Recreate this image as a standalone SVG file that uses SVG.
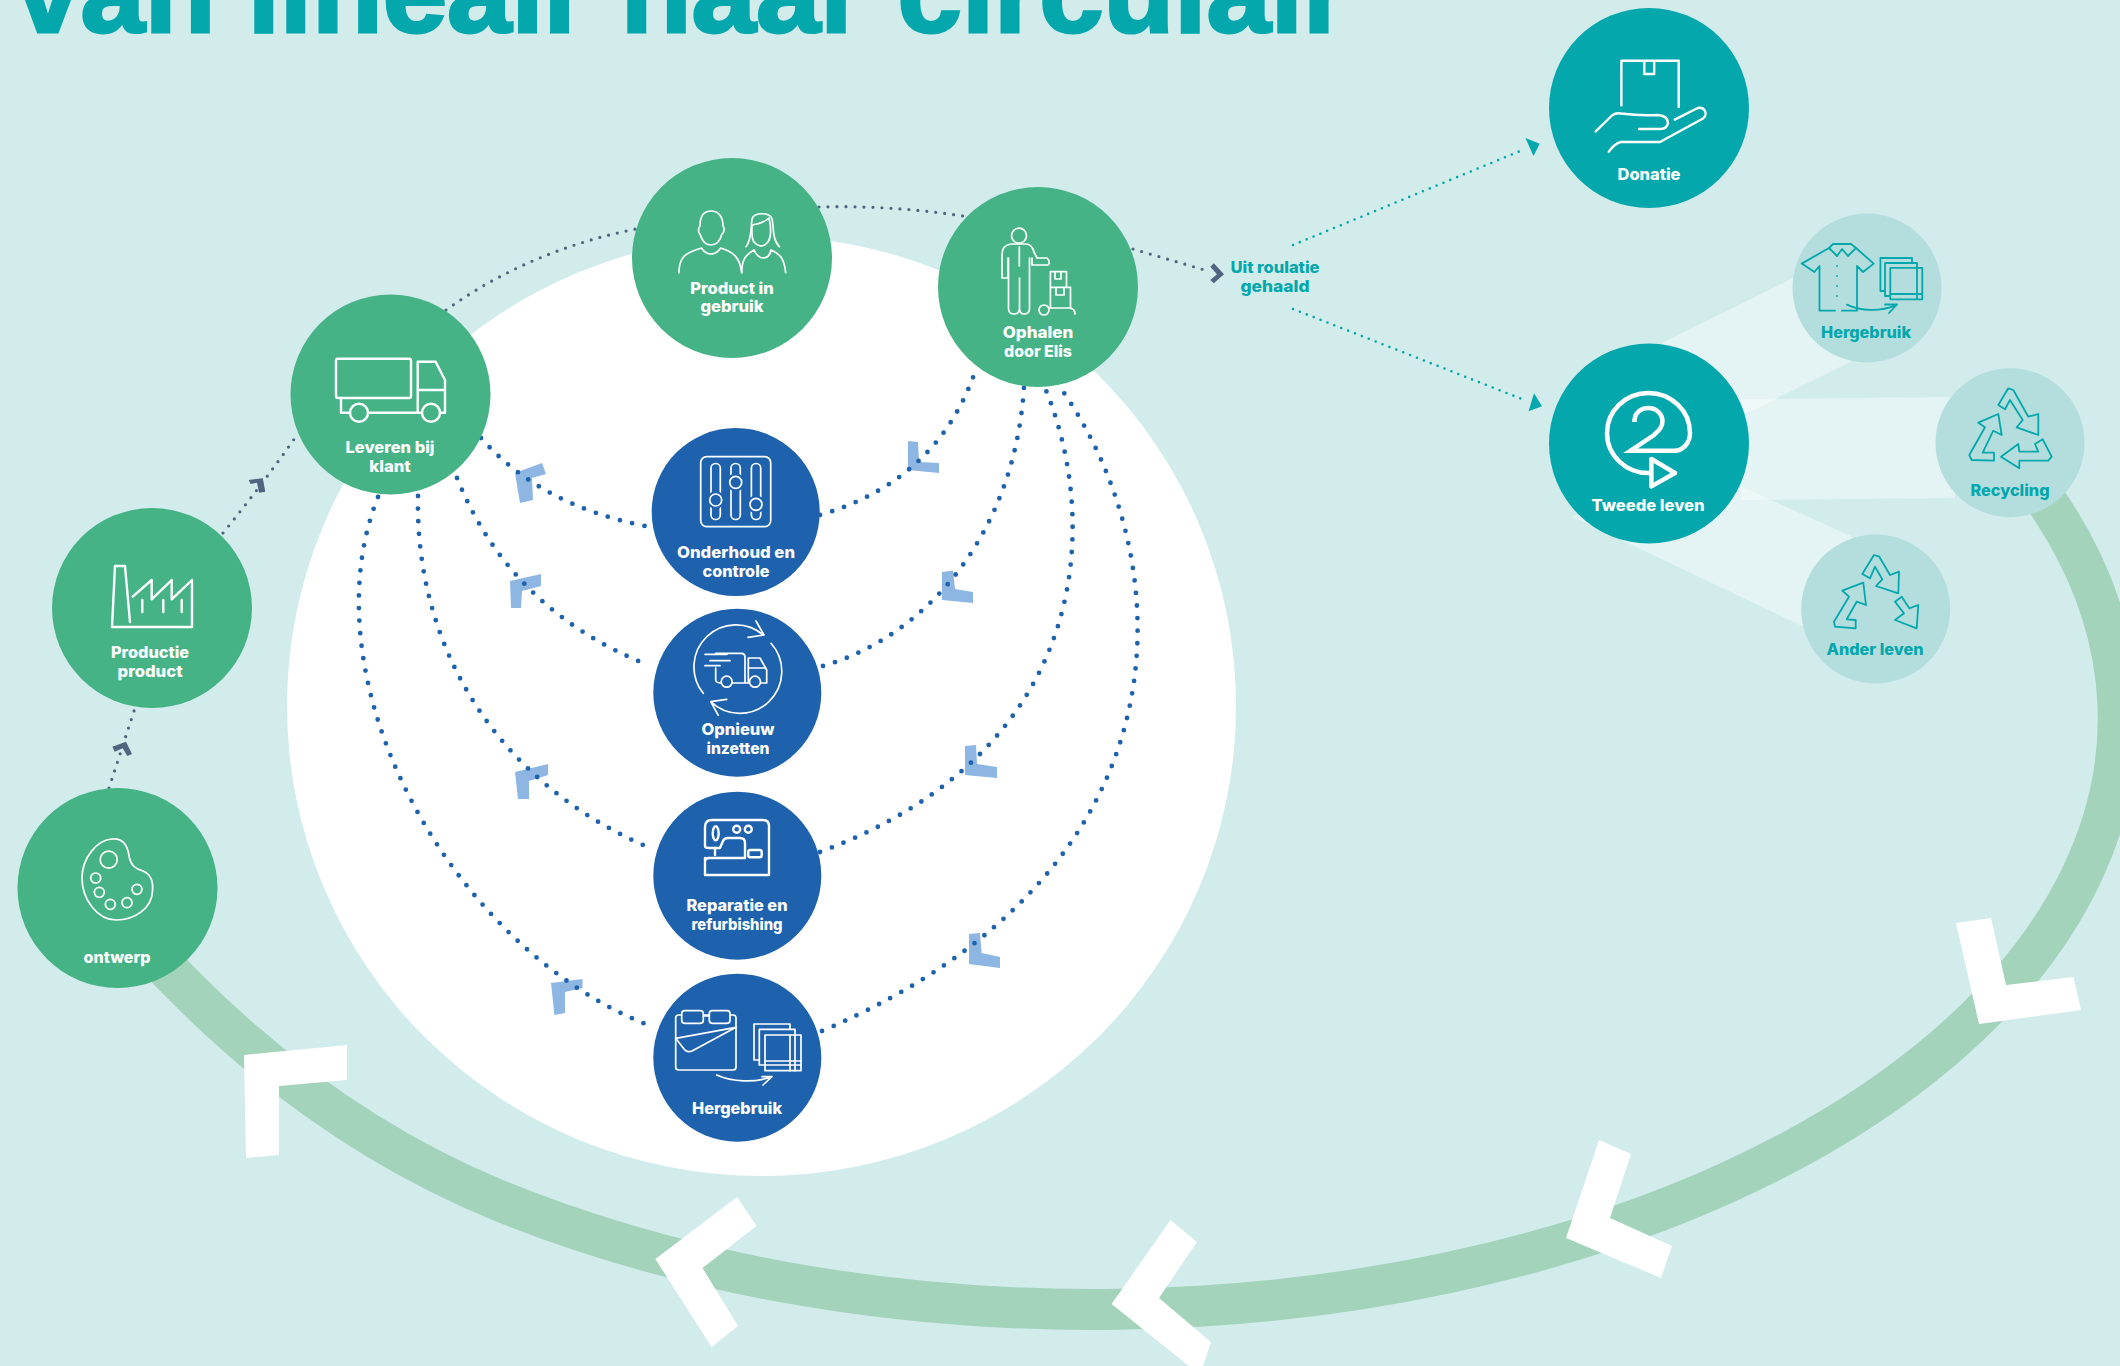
<svg xmlns="http://www.w3.org/2000/svg" width="2120" height="1366" viewBox="0 0 2120 1366">
<style>
.n{font-family:"Inter","Liberation Sans",sans-serif;font-weight:800;font-size:16px;text-anchor:middle}
.w{fill:#fff}.t{fill:#03a7ac}
.ic{fill:none;stroke:#fff;stroke-width:2.4;stroke-linejoin:round;stroke-linecap:round}
.ic2{stroke-width:1.7}
.it{fill:none;stroke:#03a7ac;stroke-width:1.8;stroke-linejoin:round;stroke-linecap:round}
.gr{fill:#45b386}.bl{fill:#1e62ae}.te{fill:#03a7ac}.li{fill:#b4dede}
.dd{fill:none;stroke:#51647f;stroke-width:3.2;stroke-linecap:round;stroke-dasharray:0 9}
.db{fill:none;stroke:#1e62ae;stroke-width:4.800;stroke-linecap:round;stroke-dasharray:0 12.600}
.dt{fill:none;stroke:#03a7ac;stroke-width:2.6;stroke-linecap:round;stroke-dasharray:0 7.4}
.cb{fill:#8db6e3}.cd{fill:#51647f}.cw{fill:#fff}
.fan{fill:#fff;opacity:.4}
</style>
<rect width="2120" height="1366" fill="#d2ecec"/>
<text x="16" y="32" font-family="'Liberation Sans',sans-serif" font-weight="700" font-size="113" fill="#03a7ac" stroke="#03a7ac" stroke-width="3" textLength="1332" lengthAdjust="spacingAndGlyphs">van lineair naar circulair</text>
<ellipse cx="761.5" cy="706" rx="474.5" ry="470" fill="#fff"/>
<path d="M2047 502A1026 591 0 0 1 500 1201C400 1160 272 1085 145 945" fill="none" stroke="#a3d3bb" stroke-width="41"/>
<g id="fans">
<polygon class="fan" points="1662,343 1793,278 1852,361 1747,413"/>
<polygon class="fan" points="1741,399 1951,397 1955,498 1741,500"/>
<polygon class="fan" points="1571,516 1802,626 1853,537 1742,487"/>
</g>
<g id="big-chevrons">
<polygon class="cw" points="244,1055 347,1045 347,1080 279,1086 279,1155 246,1158"/>
<polygon class="cw" points="737,1197 756.5,1226 702.5,1268 738,1326 711.6,1347 655.4,1259"/>
<polygon class="cw" points="1170.5,1220 1197,1242 1159,1298 1211,1342 1200,1375 1111.6,1304"/>
<polygon class="cw" points="1599,1140 1631,1154 1610,1218 1672,1246 1661,1278 1566,1238"/>
<polygon class="cw" points="1956,923 1991,918 2006,985 2073.5,977 2081,1010 1979,1024"/>
</g>
<g id="connectors">
<polygon class="cb" points="515,473 542,463 546,474 532,478 533,500 520,503"/>
<polygon class="cb" points="510,581 541,574 541,586 522,591 521,608 511,608"/>
<polygon class="cb" points="515,772 548,764 548,775 529,781 529,799 518,799"/>
<polygon class="cb" points="551,983 582.5,979 582.5,988 565,992 565,1013 554.4,1015"/>
<polygon class="cb" points="908,441 918,442 919,462 939,463 939,473 908,470"/>
<polygon class="cb" points="942,572 953,570.5 955,589 973,592 973,603 942,600"/>
<polygon class="cb" points="965,746 976,745 977,764 997,767 997,778 965,775"/>
<polygon class="cb" points="969,934 980,933 981.6,953 1000,957 1000,968 969,964"/>
<polygon class="cd" points="112.3,746.7 126,741.7 132,754 127.3,756 122.7,748.3 114.7,751.7"/>
<polygon class="cd" points="248.7,480 262.8,478.3 265.3,491.7 259,492.7 257,482.7 250.6,484"/>
<polygon class="cd" points="1213.8,263.3 1224,274.3 1213.8,283.3 1210.3,280 1217,274.3 1210.3,266.7"/>
<path class="dd" d="M109 788 L135 708"/>
<path class="dd" d="M223 533 Q262 485 297 435"/>
<path class="dd" d="M446 310 Q530 250 636 229"/>
<path class="dd" d="M819 207 Q890 205 963 216"/>
<path class="dd" d="M1133 249 L1208 271"/>
<path class="db" d="M481 438 Q540 505 645 526"/>
<path class="db" d="M457 478 Q510 610 648 665"/>
<path class="db" d="M418 496 C415 640 490 780 650 848"/>
<path class="db" d="M378 497 C305 680 450 950 653 1027"/>
<path class="db" d="M820 515 Q940 480 977 366"/>
<path class="db" d="M823 666 C930 635 1015 530 1024 387"/>
<path class="db" d="M820 852 C1095 750 1100 520 1045 388"/>
<path class="db" d="M822 1031 C1200 870 1180 560 1062 390"/>
<path class="dt" d="M1293 245 L1525 149"/>
<path class="dt" d="M1293 309 L1527 401"/>
<polygon class="te" points="1525.4,138 1539.7,143.7 1533.5,156"/>
<polygon class="te" points="1534,393.3 1542,406.3 1528.6,411.3"/>
</g>
<g id="node-ontwerp"><circle class="gr" cx="117.5" cy="888" r="100"/>
<g class="ic ic2"><path d="M112 839C125 838 128 848 129 856C131 866 136 869 143 871C153 875 153 885 152.5 891C152 908 135 920 116 920C98 920 82 900 82 878C82 858 97 840 112 839Z"/><circle cx="108.7" cy="859.7" r="8.5"/><circle cx="95.7" cy="878" r="5"/><circle cx="99.3" cy="892.3" r="5"/><circle cx="110.3" cy="904.3" r="5"/><circle cx="127" cy="902.7" r="5"/><circle cx="137" cy="889.3" r="5"/></g>
<text class="n w" x="117" y="963" textLength="67" lengthAdjust="spacingAndGlyphs">ontwerp</text></g>
<g id="node-productie"><circle class="gr" cx="152" cy="608" r="100"/>
<path class="ic" d="M130 622L125 566H115L112 627H192V580L171.7 599.3V580L151.7 599.3V580L132.7 596.7M142.3 600V612M163.3 600V612M181.7 600V612"/>
<text class="n w" x="150" y="658" textLength="78" lengthAdjust="spacingAndGlyphs">Productie</text><text class="n w" x="150" y="677" textLength="65" lengthAdjust="spacingAndGlyphs">product</text></g>
<g id="node-leveren"><circle class="gr" cx="390.5" cy="394.5" r="100"/>
<g class="ic"><rect x="336" y="358.7" width="75" height="39.3" rx="2"/><path d="M341 398V412.7H350M368 412.7H422M440 412.7H445V380L435.6 361.7H417.7V412M417.7 390H445"/><circle cx="359" cy="412.7" r="9"/><circle cx="431" cy="412.7" r="9"/></g>
<text class="n w" x="390" y="453" textLength="89" lengthAdjust="spacingAndGlyphs">Leveren bij</text><text class="n w" x="390" y="471.500" textLength="41.500" lengthAdjust="spacingAndGlyphs">klant</text></g>
<g id="node-product"><circle class="gr" cx="732" cy="258" r="100"/>
<g class="ic ic2"><path d="M700 226C700 216 704 211 711 211C718 211 723 216 723 226C725 228 724 233 722 234C720 241 716 245 711 245C706 245 702 241 700 234C698 233 698 228 700 226Z"/><path d="M679 272.700C679 258 684 253 701.500 248C704 252 708 254 711 254C715 254 718 252 720.700 248C734 252 740 258 741.700 272.700"/><path d="M746 246.700C752 240 751 225 752 219C754 212 770 212 772 219C774 226 772 240 779.400 246.700"/><path d="M752 225C758 224 765 222 769 218C771 226 772 238 767 243C763 248 757 246 754 242C751 238 752 230 752 225Z"/><path d="M741.700 272.700C742 260 745 255 754 250C756 255 760 258 763 258C767 258 770 255 771 250C780 254 784 258 785.700 272.700"/></g>
<text class="n w" x="732" y="293.500" textLength="83.500" lengthAdjust="spacingAndGlyphs">Product in</text><text class="n w" x="732" y="311.500" textLength="63" lengthAdjust="spacingAndGlyphs">gebruik</text></g>
<g id="node-ophalen"><circle class="gr" cx="1038" cy="287" r="100"/>
<g class="ic ic2"><circle cx="1019" cy="235.700" r="7.500"/><path d="M1008 258V278H1002V255Q1002 245 1011 244H1027Q1032 245 1034 252L1037 258H1047Q1051 262 1048 265H1032V258M1008.500 258V309Q1009 314 1014 314Q1019 314 1019.500 309V278M1019.500 278V309Q1020 314 1024 314Q1029 314 1029.500 309V258M1019.300 247V266"/><path d="M1050.400 287V271.700H1066.500V287M1055 271.700V279H1061V271.700M1050.400 287.300H1070.500V308M1050.400 287.300V308M1056 287.300V295H1064V287.300"/><circle cx="1044" cy="310" r="5"/><path d="M1049 308H1070Q1075 309 1075 314"/></g>
<text class="n w" x="1038" y="338" textLength="70.500" lengthAdjust="spacingAndGlyphs">Ophalen</text><text class="n w" x="1038" y="357" textLength="68" lengthAdjust="spacingAndGlyphs">door Elis</text></g>
<g id="node-uit"><text class="n t" x="1275" y="273" textLength="89" lengthAdjust="spacingAndGlyphs">Uit roulatie</text><text class="n t" x="1275" y="292" textLength="69" lengthAdjust="spacingAndGlyphs">gehaald</text></g>
<g id="node-donatie"><circle class="te" cx="1649" cy="108" r="100"/>
<path class="ic" d="M1621.400 105.400V60.700H1678.700V107M1644.300 60.700V74H1654.200V60.700M1595.700 131.400L1612 115.500Q1616 112.500 1621 113.500Q1640 116 1658 115Q1668 116 1668 123Q1667 129 1660 129H1639M1674.800 119.600L1695.700 109C1704 105 1709 114 1703 118.500L1660 142H1620.600Q1614 144 1608.700 151.800"/>
<text class="n w" x="1649" y="180" textLength="63" lengthAdjust="spacingAndGlyphs">Donatie</text></g>
<g id="node-tweede"><circle class="te" cx="1649" cy="443.500" r="100"/>
<path d="M1634.500 422C1634 413 1641 408 1648.500 408C1656 408 1662.500 414 1662.500 421C1662.500 428 1658 431 1654 435L1630.500 450.700H1674C1684 450.700 1690 442 1690 433A41.500 40 0 0 0 1607 433A41.500 40 0 0 0 1650 473" fill="none" stroke="#fff" stroke-width="4.500"/>
<polygon points="1651.400,459 1675,473 1651.400,486.400" fill="none" stroke="#fff" stroke-width="4.500" stroke-linejoin="round"/>
<text class="n w" x="1648" y="511" textLength="113" lengthAdjust="spacingAndGlyphs">Tweede leven</text></g>
<g id="node-hergebruik-light"><circle class="li" cx="1867" cy="288" r="74.500"/>
<g class="it"><path d="M1829 248L1801.700 263.600L1814.400 272L1819.500 266V310.700H1835M1856 248L1873.700 263.600L1863 272L1857 266V310.700H1842M1829 248L1833 244H1851L1856 248L1848 256L1842 249L1837 256Z"/><path d="M1837 256V305" stroke-dasharray="0 10"/><path d="M1847 304.600C1860 311 1880 312 1895.400 305.400M1885 304.500L1897 304.500L1889 313"/><rect x="1890.300" y="267.900" width="32" height="31.400"/><path d="M1885 263V296H1890M1885 263H1917V268M1880.400 258V291H1885M1880.400 258H1912V263M1890.300 294H1922M1917 268V299"/></g>
<text class="n t" x="1866" y="337.500" textLength="90" lengthAdjust="spacingAndGlyphs">Hergebruik</text></g>
<g id="node-recycling"><circle class="li" cx="2010" cy="442.700" r="74.500"/>
<g class="it"><polygon points="1998.300,405 2008.300,388.300 2013.300,390 2028.300,416.700 2038.300,414 2038.300,435 2016.700,427.300 2022.700,420 2010,400 2005,409.300"/><polygon points="1998.300,414 2001.700,435 1993.300,430.700 1982.700,452.700 1994,452.700 1994,460.700 1971.700,460 1969.300,455 1985,427.300 1978.300,422.700"/><polygon points="2001,456.700 2018.300,444 2019.300,451.700 2038.300,451.700 2035,444 2042.700,439.300 2051.700,456.700 2048.300,460.700 2019.300,460.700 2019.300,468.300"/></g>
<text class="n t" x="2010" y="496" textLength="79" lengthAdjust="spacingAndGlyphs">Recycling</text></g>
<g id="node-ander"><circle class="li" cx="1875.700" cy="609" r="74.500"/>
<g class="it"><polygon points="1862.300,574 1874,555 1879.300,556.700 1890,575 1899,571.700 1898.300,593.300 1876,586 1882.300,579.300 1875,566.700 1870,578.300"/><polygon points="1842.300,590.700 1863.300,582.700 1866,605 1856.700,601.700 1846.700,619.300 1855.700,620 1855.700,628.300 1835,626.700 1834,621.700 1849,596.700"/><polygon points="1895,601.700 1901.700,596.700 1909.300,608.300 1918.300,605 1916.700,628.300 1895,620 1904,613.300"/></g>
<text class="n t" x="1875" y="655" textLength="97" lengthAdjust="spacingAndGlyphs">Ander leven</text></g>
<g id="node-onderhoud"><circle class="bl" cx="735.700" cy="512" r="84"/>
<g class="ic ic2"><rect x="700.700" y="456.700" width="70" height="70" rx="6"/><rect x="711" y="463.500" width="9.300" height="56" rx="4.600"/><rect x="731" y="463.500" width="9.300" height="56" rx="4.600"/><rect x="751.400" y="463.500" width="9.300" height="56" rx="4.600"/></g>
<g fill="#1e62ae"><circle cx="715.700" cy="500" r="9"/><circle cx="735.700" cy="482.300" r="9"/><circle cx="756" cy="504.300" r="9"/></g>
<g fill="#1e62ae" stroke="#fff" stroke-width="1.700"><circle cx="715.700" cy="500" r="6"/><circle cx="735.700" cy="482.300" r="6"/><circle cx="756" cy="504.300" r="6"/></g>
<text class="n w" x="736" y="558" textLength="118" lengthAdjust="spacingAndGlyphs">Onderhoud en</text><text class="n w" x="736" y="577" textLength="67" lengthAdjust="spacingAndGlyphs">controle</text></g>
<g id="node-opnieuw"><circle class="bl" cx="737.300" cy="692.700" r="84"/>
<g class="ic ic2"><path d="M703.300 693.300A42 42 0 0 1 763.300 635M756 621L764 635L748 637.300M771 643.300A42 42 0 0 1 710.700 701.700M726.700 699.300L710.700 701.700L718.300 715.300"/><path d="M715.700 668V680Q716 683 721 683M732 683H749M761 683H766.700V670L760 658H748.300V683M748.300 668H766M715.700 653.300H742Q745 654 745 657V683M705 654.300H727M710 660.700H730M705 665.700H720"/><circle cx="726.700" cy="681.700" r="5.500"/><circle cx="755" cy="681.700" r="5.500"/></g>
<text class="n w" x="738" y="735" textLength="73" lengthAdjust="spacingAndGlyphs">Opnieuw</text><text class="n w" x="738" y="754" textLength="63" lengthAdjust="spacingAndGlyphs">inzetten</text></g>
<g id="node-reparatie"><circle class="bl" cx="737.300" cy="875.700" r="84"/>
<g class="ic"><path d="M705 858V875H769V826Q769 820 763 820H712Q705 820 705 827V846Q705 848 709 848H720L723 841Q724 838 728 838H740Q745 838 745 843V858H709Q705 858 705 862"/><path d="M715 848V855"/><ellipse cx="715.700" cy="833.300" rx="3" ry="7"/><circle cx="736.700" cy="829.300" r="3.500"/><circle cx="748.300" cy="829.300" r="3.500"/><rect x="748.300" y="850" width="13.400" height="7.300" rx="2"/></g>
<text class="n w" x="737" y="911" textLength="101" lengthAdjust="spacingAndGlyphs">Reparatie en</text><text class="n w" x="737" y="929.500" textLength="91" lengthAdjust="spacingAndGlyphs">refurbishing</text></g>
<g id="node-hergebruik"><circle class="bl" cx="737.300" cy="1057.700" r="84"/>
<g class="ic ic2"><rect x="675.700" y="1015" width="60.300" height="55" rx="3"/><rect x="681.700" y="1010.700" width="21.600" height="12.600" rx="3" fill="#1e62ae"/><rect x="709.300" y="1010.700" width="20.700" height="12.600" rx="3" fill="#1e62ae"/><path d="M703.300 1016H709.300M675.700 1038.300L736 1027.300L692 1051Q687 1053 684 1049Z"/><path d="M716.700 1075C732 1082 755 1083 771.700 1076.700M762 1076.700H772L763 1085"/><rect x="765" y="1035" width="36" height="35.700"/><path d="M759.300 1065V1029.300H795V1035M754 1060V1024H790V1029.300M765 1061H801M765 1065H801M790 1035V1070.700M795 1035V1070.700M754 1060H759.300M759.300 1065H765"/></g>
<text class="n w" x="737" y="1114" textLength="90" lengthAdjust="spacingAndGlyphs">Hergebruik</text></g>
</svg>
